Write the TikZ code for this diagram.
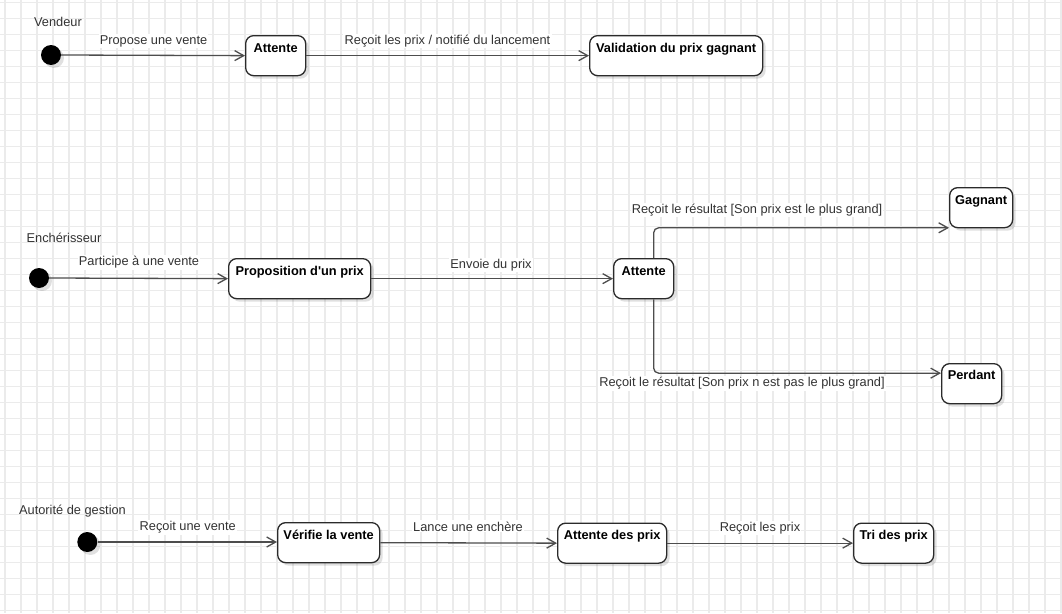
\documentclass[tikz,border=0pt]{standalone}
\usepackage{fontspec}
\setmainfont{Liberation Sans}[Ligatures=TeXOff]
\usetikzlibrary{arrows.meta,calc,shadows}
\definecolor{gridc}{HTML}{EBEBEB}
\definecolor{edgec}{HTML}{4D4D4D}
\definecolor{boxc}{HTML}{2B2B2B}
\definecolor{lblc}{HTML}{333333}
\begin{document}
\begin{tikzpicture}[x=1pt,y=-1pt,
  gridline/.style={draw=gridc, line width=1.2pt},
  stbox/.style={draw=boxc, line width=1.3pt, rounded corners=8pt, fill=white,
    inner sep=0pt, anchor=north west, minimum height=40,
    drop shadow={shadow xshift=3pt, shadow yshift=-3pt, opacity=0.12, fill=black}},
  init/.style={circle, fill=black, minimum size=20, inner sep=0pt,
    drop shadow={shadow xshift=3pt, shadow yshift=-3pt, opacity=0.12, fill=black}},
  stext/.style={anchor=base, inner sep=0pt, text=black, font=\fontsize{12.8}{15}\selectfont\bfseries},
  elab/.style={anchor=base, fill=white, inner sep=1.2pt, text=lblc, font=\fontsize{12.8}{15}\selectfont},
  actor/.style={anchor=base, inner sep=0pt, text=lblc, font=\fontsize{12.8}{15}\selectfont},
  trans/.style={draw=edgec, line width=1.3pt, rounded corners=5pt,
    -{Straight Barb[length=9pt,width=10pt,line width=1.3pt]}}
]
\useasboundingbox (0,0) rectangle (1062,613);
\fill[white] (0,0) rectangle (1062,613);
\foreach \i in {0,...,66} \draw[gridline] (5+16*\i,0) -- (5+16*\i,613);
\foreach \j in {0,...,38} \draw[gridline] (0,2.7+16*\j) -- (1062,2.7+16*\j);

% ---------- Vendeur ----------
\node[actor] (lv) at (58,26) {Vendeur};
\node[init] (i1) at (51,55) {};
\node[stbox, minimum width=60] (v1) at (245,35) {};
\node[stext] (tv1) at ($(v1.north)+(0,17.5)$) {Attente};
\node[stbox, minimum width=173] (v2) at (589,35) {};
\node[stext] (tv2) at ($(v2.north)+(0,17)$) {Validation du prix gagnant};
\draw[trans] (i1.east) -- (v1.west);
\draw[trans] (v1.east) -- (v2.west);
\node[elab] (e1) at (153.5,44.3) {Propose une vente};
\node[elab] (e2) at (447.5,44.3) {Reçoit les prix / notifié du lancement};

% ---------- Enchérisseur ----------
\node[actor] (le) at (64,242) {Enchérisseur};
\node[init] (i2) at (39,278) {};
\node[stbox, minimum width=142] (p1) at (228,258) {};
\node[stext] (tp1) at ($(p1.north)+(0,17)$) {Proposition d'un prix};
\node[stbox, minimum width=60] (p2) at (613,258) {};
\node[stext] (tp2) at ($(p2.north)+(0,17.5)$) {Attente};
\node[stbox, minimum width=63] (pg) at (949,187) {};
\node[stext] (tpg) at ($(pg.north)+(0,17)$) {Gagnant};
\node[stbox, minimum width=60] (pp) at (941,363) {};
\node[stext] (tpp) at ($(pp.north)+(0,16.5)$) {Perdant};
\draw[trans] (i2.east) -- (p1.west);
\draw[trans] (p1.east) -- (p2.west);
\coordinate (bu) at ($(p2.north)+(10,0)$);
\coordinate (bd) at ($(p2.south)+(10,0)$);
\coordinate (tg) at ($(pg.south west)+(0,-0.5)$);
\coordinate (tpd) at ($(pp.west)+(0,-10.5)$);
\draw[trans] (bu) |- (tg);
\draw[trans] (bd) |- (tpd);
\node[elab] (e3) at (139,265.7) {Participe à une vente};
\node[elab] (e4) at (491,268) {Envoie du prix};
\node[elab] (e5) at (757,213.3) {Reçoit le résultat [Son prix est le plus grand]};
\node[elab] (e6) at (742,386.7) {Reçoit le résultat [Son prix n est pas le plus grand]};

% ---------- Autorité de gestion ----------
\node[actor] (la) at (72.5,514) {Autorité de gestion};
\node[init] (i3) at (87.3,542) {};
\node[stbox, minimum width=102] (a1) at (277,522) {};
\node[stext] (ta1) at ($(a1.north)+(0,17.5)$) {Vérifie la vente};
\node[stbox, minimum width=109] (a2) at (557,522.5) {};
\node[stext] (ta2) at ($(a2.north)+(0,17)$) {Attente des prix};
\node[stbox, minimum width=80] (a3) at (853,522.5) {};
\node[stext] (ta3) at ($(a3.north)+(0,17)$) {Tri des prix};
\draw[trans] (i3.east) -- (i3.east -| a1.west);
\draw[trans] (a1.east) -- (a2.west);
\draw[trans] (a2.east) -- (a3.west);
\node[elab] (e7) at (187.7,530.7) {Reçoit une vente};
\node[elab] (e8) at (468,531) {Lance une enchère};
\node[elab] (e9) at (760,531.5) {Reçoit les prix};
\end{tikzpicture}
\end{document}
